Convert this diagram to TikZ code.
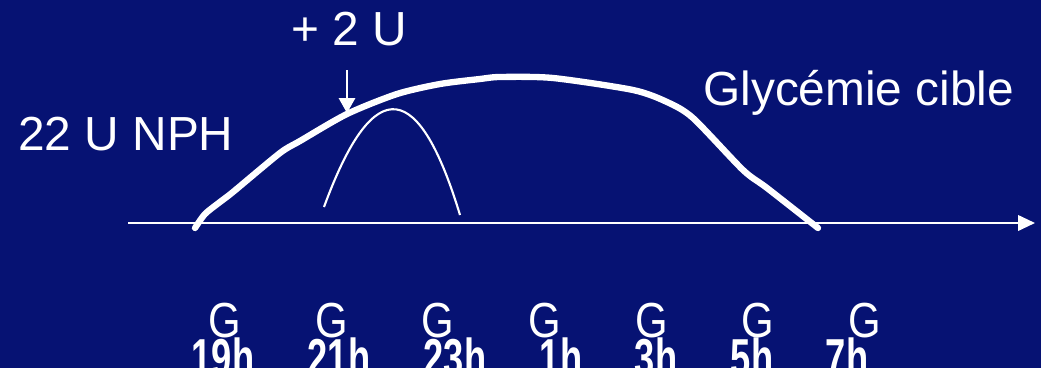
\documentclass[tikz,border=0pt]{standalone}
\usepackage{fontspec}
\setmainfont{Liberation Sans}
\usepackage{graphicx}
\usetikzlibrary{arrows.meta}
\definecolor{navy}{HTML}{061273}
\newcommand{\gmark}[1]{\scalebox{0.85}[1]{#1}}
\newcommand{\hmark}[1]{\scalebox{0.68}[1]{\bfseries #1}}

\begin{document}
\begin{tikzpicture}[
  x=0.025cm, y=-0.025cm,
  lbl/.style={text=white, inner sep=0pt, anchor=base west, font=\fontsize{34}{38}\selectfont},
  gly/.style={text=white, inner sep=0pt, anchor=base, font=\fontsize{35}{38}\selectfont},
  hrs/.style={text=white, inner sep=0pt, anchor=base, font=\fontsize{38}{42}\selectfont},
  axis/.style={white, line width=1.5pt, -{Triangle[length=12pt, width=11pt]}},
  darr/.style={white, line width=1.3pt, -{Triangle[length=10.5pt, width=11.5pt]}},
  curve/.style={white, line width=4.5pt, line cap=round, line join=round},
  peak/.style={white, line width=1.5pt}
]
\path[use as bounding box, fill=navy] (0,0) rectangle (1041,368);

% labels
\node[lbl] (plus) at (291,45) {+ 2 U};
\node[lbl] (nph) at (18,150) {22 U NPH};
\node[lbl] (cible) at (703,105) {Glycémie cible};

% time axis
\coordinate (x0) at (128,223);
\coordinate (x1) at (1035,223);
\draw[axis] (x0) -- (x1);

% glycaemia curve
\draw[curve] plot[smooth, tension=0.45] coordinates {(195,228) (205,214) (220,202) (233,192) (280,153) (300,141) (347,114) (397,94) (440,84) (480,79) (500,77) (553,78) (633,90) (667,102) (693,118) (743,170) (767,188) (818,228)};

% extra dose
\draw[peak] (324,207) .. controls (375,68) and (420,83) .. (460,215);
\coordinate (d0) at (347,70);
\coordinate (d1) at (347,113);
\draw[darr] (d0) -- (d1);

% controls
\node[gly] (g19) at (225,337) {\gmark{G}};
\node[gly] (g21) at (332,337) {\gmark{G}};
\node[gly] (g23) at (438,337) {\gmark{G}};
\node[gly] (g1) at (545,337) {\gmark{G}};
\node[gly] (g3) at (652,337) {\gmark{G}};
\node[gly] (g5) at (758,337) {\gmark{G}};
\node[gly] (g7) at (865,337) {\gmark{G}};

\node[hrs] (h19) at (223,376) {\hmark{19h}};
\node[hrs] (h21) at (339,376) {\hmark{21h}};
\node[hrs] (h23) at (455,376) {\hmark{23h}};
\node[hrs] (h1) at (561,376) {\hmark{1h}};
\node[hrs] (h3) at (656,376) {\hmark{3h}};
\node[hrs] (h5) at (752,376) {\hmark{5h}};
\node[hrs] (h7) at (847,376) {\hmark{7h}};
\end{tikzpicture}
\end{document}
